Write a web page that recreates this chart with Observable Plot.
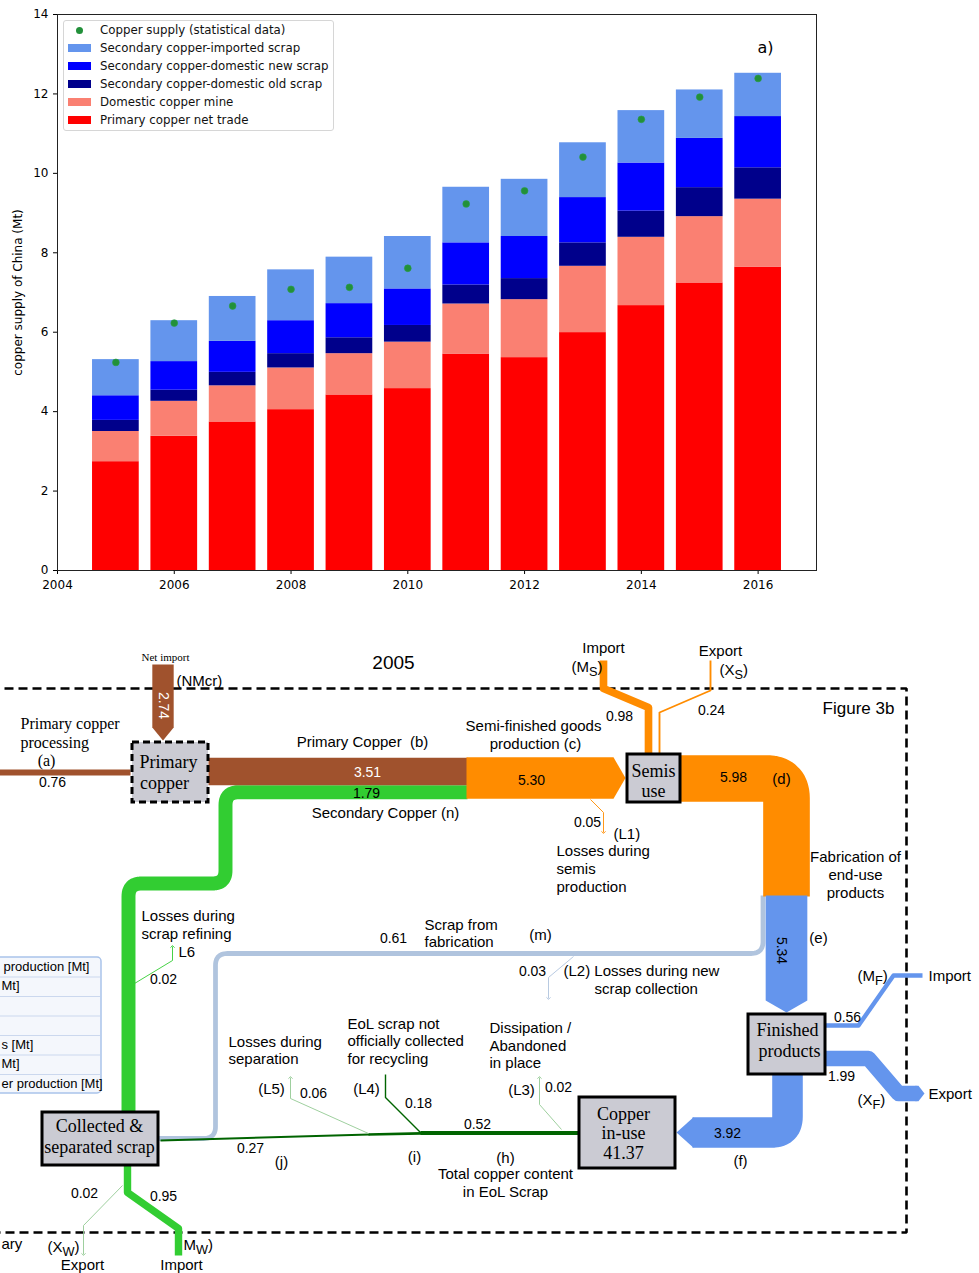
<!DOCTYPE html>
<html><head><meta charset="utf-8">
<script src="https://cdn.jsdelivr.net/npm/d3@7"></script>
<script src="https://cdn.jsdelivr.net/npm/@observablehq/plot@0.6"></script>
<style>
body{margin:0;background:#fff;}
#wrap{position:relative;width:979px;height:1273px;overflow:hidden;background:#fff;}
#wrap svg{display:block;}
.legend{position:absolute;left:63px;top:20px;width:271px;height:111px;border:1px solid #d6d6d6;border-radius:3px;background:rgba(255,255,255,0.85);font:11.8px "DejaVu Sans";color:#111;box-sizing:border-box;}
.li{position:absolute;left:0;width:100%;height:18px;}
.li span.t{position:absolute;left:36px;top:0;line-height:18px;white-space:nowrap;}
.li span.p{position:absolute;left:4px;top:5px;width:23px;height:8px;}
.li span.d{position:absolute;left:12px;top:5.5px;width:7px;height:7px;border-radius:50%;}
</style></head>
<body><div id="wrap"></div>
<script>
// ---------------- DATA: panel a) ----------------
const years = [2005,2006,2007,2008,2009,2010,2011,2012,2013,2014,2015,2016];
const primaryNetTrade   = [2.74,3.38,3.74,4.05,4.42,4.58,5.45,5.36,5.99,6.67,7.24,7.64];
const domesticMine      = [0.76,0.88,0.91,1.05,1.04,1.17,1.26,1.46,1.67,1.72,1.67,1.71];
const domesticOldScrap  = [0.28,0.28,0.34,0.36,0.40,0.42,0.48,0.53,0.59,0.66,0.73,0.79];
const domesticNewScrap  = [0.62,0.72,0.78,0.83,0.86,0.92,1.06,1.06,1.14,1.21,1.24,1.29];
const importedScrap     = [0.91,1.03,1.13,1.28,1.17,1.32,1.40,1.44,1.38,1.32,1.22,1.09];
const supplyStatistical = [5.24,6.23,6.66,7.08,7.13,7.61,9.23,9.56,10.41,11.36,11.92,12.39];
const seriesNames = ["Primary copper net trade","Domestic copper mine","Secondary copper-domestic old scrap","Secondary copper-domestic new scrap","Secondary copper-imported scrap"];
const dotName = "Copper supply (statistical data)";
const xTicks = [2004,2006,2008,2010,2012,2014,2016];
const yTicks = [0,2,4,6,8,10,12,14];

// ---------------- DATA: panel b) flows (Mt), year 2005 ----------------
const flowYear = "2005";
const flowIds    = ["a","NMcr","b","n","c","MS","XS","L1","d","e","m","L2","MF","XF","f","h","L3","L4","L5","j","MW","XW","L6"];
const flowValues = [0.76,2.74,3.51,1.79,5.30,0.98,0.24,0.05,5.98,5.34,0.61,0.03,0.56,1.99,3.92,0.52,0.02,0.18,0.06,0.27,0.95,0.02,0.02];
const inUseStock = 41.37;
const nodeIds = ["primary","semis","finished","inuse","scrap"];

// ---------------- styles ----------------
const seriesColors = ["#ff0000","#fa8072","#00008b","#0000ff","#6495ed"];
const dotColor = "#22903a";
const SANS = "Liberation Sans", SERIF = "Liberation Serif";
const wrap = document.getElementById("wrap");

// ---------------- panel a) ----------------
const seriesValues = [primaryNetTrade, domesticMine, domesticOldScrap, domesticNewScrap, importedScrap];
const rows = [];
years.forEach((yr, j) => {
  let acc = 0;
  seriesValues.forEach((vals, i) => { rows.push({year: yr, series: seriesNames[i], y1: acc, y2: acc + vals[j]}); acc += vals[j]; });
});
const dots = years.map((yr, j) => ({year: yr, value: supplyStatistical[j]}));

const chartA = Plot.plot({
  width: 979, height: 600,
  marginLeft: 57, marginRight: 163, marginTop: 14, marginBottom: 30,
  style: {fontFamily: "DejaVu Sans", fontSize: "12px", color: "#000", background: "white", overflow: "visible"},
  x: {domain: [2004, 2017], ticks: xTicks, tickFormat: d => String(d), tickSize: 4, tickPadding: 6, label: null},
  y: {domain: [0, 14], ticks: yTicks, tickSize: 4, tickPadding: 5, label: null},
  color: {domain: seriesNames, range: seriesColors},
  marks: [
    Plot.rect(rows, {x1: d => d.year - 0.4, x2: d => d.year + 0.4, y1: "y1", y2: "y2", fill: "series"}),
    Plot.dot(dots, {x: "year", y: "value", r: 3.4, fill: dotColor, stroke: "#2a9e45", strokeWidth: 0.6}),
    Plot.frame({stroke: "#222", strokeWidth: 1}),
    Plot.text(["copper supply of China (Mt)"], {text: d => d, frameAnchor: "left", dx: -39, rotate: -90, fontSize: 12, textAnchor: "middle", lineAnchor: "middle"}),
    Plot.text(["a)"], {text: d => d, frameAnchor: "top-right", dx: -43, dy: 33, textAnchor: "end", lineAnchor: "middle", fontSize: 16})
  ]
});
wrap.appendChild(chartA);

// legend (HTML overlay)
const leg = document.createElement("div");
leg.className = "legend";
const legItems = [{name: dotName, dot: true}].concat(seriesNames.map((n, i) => ({name: n, color: seriesColors[i]})).reverse());
legItems.forEach((it, i) => {
  const row = document.createElement("div");
  row.className = "li";
  row.style.top = (i * 18) + "px";
  const m = document.createElement("span");
  if (it.dot) { m.className = "d"; m.style.background = dotColor; }
  else { m.className = "p"; m.style.background = it.color; }
  const t = document.createElement("span");
  t.className = "t"; t.textContent = it.name;
  row.appendChild(m); row.appendChild(t);
  leg.appendChild(row);
});
wrap.appendChild(leg);

// ---------------- panel b) ----------------
const K = 7.8; // px per Mt (flow width scale)
const flow = Object.fromEntries(flowIds.map((id, i) => [id, flowValues[i]]));
const fw = id => Math.max(flow[id] * K, 0.9);
const fmt = id => flow[id].toFixed(2);

function rounded(pts, r) {
  if (!r) return pts;
  const out = [pts[0]];
  for (let i = 1; i < pts.length - 1; i++) {
    const p0 = pts[i-1], p1 = pts[i], p2 = pts[i+1];
    const d1 = Math.hypot(p1[0]-p0[0], p1[1]-p0[1]), d2 = Math.hypot(p2[0]-p1[0], p2[1]-p1[1]);
    const rr = Math.min(r, d1/2, d2/2);
    const a = [p1[0] + (p0[0]-p1[0]) * rr / d1, p1[1] + (p0[1]-p1[1]) * rr / d1];
    const b = [p1[0] + (p2[0]-p1[0]) * rr / d2, p1[1] + (p2[1]-p1[1]) * rr / d2];
    for (let k = 0; k <= 14; k++) {
      const t = k / 14;
      out.push([(1-t)*(1-t)*a[0] + 2*(1-t)*t*p1[0] + t*t*b[0], (1-t)*(1-t)*a[1] + 2*(1-t)*t*p1[1] + t*t*b[1]]);
    }
  }
  out.push(pts[pts.length-1]);
  return out;
}
const L = (pts, o) => Plot.line(pts, {x: d => d[0], y: d => d[1], strokeLinecap: "butt", strokeLinejoin: "round", ...o});
const band = (id, pts, color, r = 0, extra = {}) => L(rounded(pts, r), {stroke: color, strokeWidth: fw(id), ...extra});
const poly = (pts, color) => Plot.line(pts, {x: d => d[0], y: d => d[1], curve: "linear-closed", fill: color, stroke: "none"});

const BROWN = "#a0522d", ORANGE = "#ff8c00", GREEN = "#32cd32", LSB = "#b0c4de", CBLUE = "#6495ed", DGREEN = "#006400", LGREEN = "#93c993";
const NODEFILL = "#cbcbd3";

// layout (pixel positions of the schematic)
const hw = id => flow[id] * K / 2;
const boxes = {
  primary:  {x1: 132, x2: 208, y1: 742, y2: 802, dashed: true},
  semis:    {x1: 627, x2: 680, y1: 754, y2: 802},
  finished: {x1: 748, x2: 825, y1: 1014, y2: 1074},
  inuse:    {x1: 579, x2: 675, y1: 1097, y2: 1168},
  scrap:    {x1: 42,  x2: 158, y1: 1112, y2: 1165}
};

const marks = [];
// system boundary
marks.push(L([[-10,688],[906,688],[906,1232],[-10,1232]], {stroke: "#000", strokeWidth: 2.6, strokeDasharray: "9,5", strokeLinejoin: "miter"}));
// side table (cut)
marks.push(Plot.rect([{x1: -10, x2: 101, y1: 957, y2: 1093}], {x1: "x1", x2: "x2", y1: "y1", y2: "y2", fill: "#f4f7fc", stroke: "#a9c3ea", strokeWidth: 1.5, rx: 4}));
marks.push(Plot.ruleY([976.5, 996, 1015.5, 1035, 1054.5, 1074], {y: d => d, x1: -10, x2: 100, stroke: "#cbd8ee", strokeWidth: 1}));

// flows
marks.push(band("n", [[467,791.7],[225,791.7],[225,883],[128,883],[128,1112]], GREEN, 13));
marks.push(band("a", [[-5,772],[130,772]], BROWN));
marks.push(band("b", [[208,771],[467,771]], BROWN));
marks.push(poly([[162.5-hw("NMcr"),664],[162.5+hw("NMcr"),664],[162.5+hw("NMcr"),727],[162.5,740],[162.5-hw("NMcr"),727]], BROWN));
marks.push(poly([[466,777.5-hw("c")],[613,777.5-hw("c")],[625,777.5],[613,777.5+hw("c")],[466,777.5+hw("c")]], ORANGE));
marks.push(band("MS", [[603,660],[603,688],[648,707],[648,754]], ORANGE));
marks.push(band("XS", [[659,754],[659,712],[710,690],[710,660]], ORANGE));
marks.push(band("L1", [[590,799],[603,812],[603,832]], ORANGE, 0, {markerEnd: "arrow"}));
marks.push(band("m", [[762.5,895],[762.5,953],[215,953],[215,1138],[158,1138]], LSB, 12));
marks.push(band("d", [[680,778],[786,778],[786,896]], ORANGE, 20));
marks.push(poly([[786-hw("e"),895],[786+hw("e"),895],[786+hw("e"),1000],[786,1012],[786-hw("e"),1000]], CBLUE));
marks.push(band("L2", [[573,956],[548,977],[548,998]], LSB, 0, {markerEnd: "arrow"}));
marks.push(band("MF", [[825,1025],[858,1025],[893,975],[922,975]], CBLUE));
marks.push(band("XF", [[825,1058],[868,1058],[898,1093],[916,1093]], CBLUE));
marks.push(poly([[915,1093-hw("XF")],[918,1093-hw("XF")],[924,1093],[918,1093+hw("XF")],[915,1093+hw("XF")]], CBLUE));
marks.push(band("f", [[787,1074],[787,1132],[692,1132]], CBLUE, 16));
marks.push(poly([[693,1132-hw("f")],[693,1132+hw("f")],[676,1132]], CBLUE));
marks.push(band("h", [[579,1132.5],[420,1132.5]], DGREEN));
marks.push(L([[421,1132.8],[368,1134]], {stroke: DGREEN, strokeWidth: (flow.h - flow.L4) * K}));
marks.push(band("j", [[369,1134],[160,1140]], DGREEN));
marks.push(band("L4", [[420,1132],[385,1097],[385,1074]], DGREEN));
marks.push(band("L5", [[368,1133],[290,1098],[290,1077]], LGREEN, 0, {markerEnd: "arrow"}));
marks.push(band("L3", [[561,1129],[539,1104],[539,1077]], LGREEN, 0, {markerEnd: "arrow"}));
marks.push(band("MW", [[127,1165],[127,1192],[178,1228],[178,1255]], GREEN));
marks.push(band("XW", [[122,1185],[83,1225],[83,1254]], LGREEN, 0, {markerEnd: "arrow"}));
marks.push(band("L6", [[134,983],[172,960],[172,946]], GREEN, 0, {markerEnd: "arrow"}));

// nodes
nodeIds.forEach(id => {
  const b = boxes[id];
  marks.push(Plot.rect([b], {x1: "x1", x2: "x2", y1: "y1", y2: "y2", fill: NODEFILL, stroke: "#000", strokeWidth: 3,
    strokeDasharray: b.dashed ? "7,4" : null}));
});

// labels
const ctx = document.createElement("canvas").getContext("2d");
const measure = (t, s, f) => { ctx.font = `${s}px "${f}"`; return ctx.measureText(t).width; };
const texts = [];
const T = (x, y, t, o = {}) => texts.push({x, y, t, a: o.a || "middle", s: o.s || 15, f: o.f || SANS, c: o.c || "#000", r: o.r || 0});
const SUB = (x, y, main, sub, tail, s = 15) => {
  const w1 = measure(main, s, SANS), w2 = measure(sub, s * 0.85, SANS);
  T(x, y, main, {a: "start", s}); T(x + w1, y + 4, sub, {a: "start", s: s * 0.85}); T(x + w1 + w2, y, tail, {a: "start", s});
};
T(393, 662, flowYear, {s: 19});
T(858, 708, "Figure 3b", {s: 17});
T(165, 657, "Net import", {s: 11, f: SERIF});
T(176, 681, "(NMcr)", {a: "start"});
T(162.5, 705, fmt("NMcr"), {s: 14, c: "#fff", r: 90});
T(20, 723, "Primary copper", {a: "start", s: 16, f: SERIF});
T(20, 742, "processing", {a: "start", s: 16, f: SERIF});
T(46, 760, "(a)", {s: 16, f: SERIF});
T(52, 782, fmt("a"), {s: 14});
T(168, 762, "Primary", {s: 18, f: SERIF});
T(164, 783, "copper", {s: 18, f: SERIF});
T(362, 742, "Primary Copper  (b)");
T(367, 772, fmt("b"), {s: 14, c: "#fff"});
T(366, 793, fmt("n"), {s: 14});
T(385, 813, "Secondary Copper (n)");
T(533, 726, "Semi-finished goods");
T(535, 744, "production (c)");
T(531, 780, fmt("c"), {s: 14});
T(587, 822, fmt("L1"), {s: 14});
T(613, 834, "(L1)", {a: "start"});
T(556, 851, "Losses during", {a: "start"});
T(556, 869, "semis", {a: "start"});
T(556, 887, "production", {a: "start"});
T(653, 771, "Semis", {s: 18, f: SERIF});
T(653, 791, "use", {s: 18, f: SERIF});
T(603, 648, "Import");
SUB(571, 667, "(M", "S", ")");
T(720, 651, "Export");
SUB(719, 670, "(X", "S", ")");
T(619, 716, fmt("MS"), {s: 14});
T(711, 710, fmt("XS"), {s: 14});
T(733, 777, fmt("d"), {s: 14});
T(781, 779, "(d)");
T(855, 857, "Fabrication of");
T(855, 875, "end-use");
T(855, 893, "products");
T(781, 950, fmt("e"), {s: 14, r: 90});
T(818, 938, "(e)");
T(141, 916, "Losses during", {a: "start"});
T(141, 934, "scrap refining", {a: "start"});
T(178, 952, "L6", {a: "start"});
T(163, 979, fmt("L6"), {s: 14});
T(393, 938, fmt("m"), {s: 14});
T(424, 925, "Scrap from", {a: "start"});
T(424, 942, "fabrication", {a: "start"});
T(540, 935, "(m)");
T(532, 971, fmt("L2"), {s: 14});
T(563, 971, "(L2) Losses during new", {a: "start"});
T(594, 989, "scrap collection", {a: "start"});
SUB(857, 976, "(M", "F", ")");
T(928, 976, "Import", {a: "start"});
T(847, 1017, fmt("MF"), {s: 14});
T(841, 1076, fmt("XF"), {s: 14});
SUB(857, 1100, "(X", "F", ")");
T(928, 1094, "Export", {a: "start"});
T(787, 1030, "Finished", {s: 18, f: SERIF});
T(789, 1051, "products", {s: 18, f: SERIF});
T(623, 1114, "Copper", {s: 18, f: SERIF});
T(623, 1133, "in-use", {s: 18, f: SERIF});
T(623, 1153, inUseStock.toFixed(2), {s: 18, f: SERIF});
T(727, 1133, fmt("f"), {s: 14});
T(740, 1161, "(f)");
T(347, 1024, "EoL scrap not", {a: "start"});
T(347, 1041, "officially collected", {a: "start"});
T(347, 1059, "for recycling", {a: "start"});
T(489, 1028, "Dissipation /", {a: "start"});
T(489, 1046, "Abandoned", {a: "start"});
T(489, 1063, "in place", {a: "start"});
T(228, 1042, "Losses during", {a: "start"});
T(228, 1059, "separation", {a: "start"});
T(271, 1089, "(L5)");
T(313, 1093, fmt("L5"), {s: 14});
T(366, 1089, "(L4)");
T(418, 1103, fmt("L4"), {s: 14});
T(521, 1090, "(L3)");
T(558, 1087, fmt("L3"), {s: 14});
T(477, 1124, fmt("h"), {s: 14});
T(250, 1148, fmt("j"), {s: 14});
T(281, 1162, "(j)");
T(414, 1157, "(i)");
T(505, 1158, "(h)");
T(505, 1174, "Total copper content");
T(505, 1192, "in EoL Scrap");
T(99, 1126, "Collected &", {s: 18, f: SERIF});
T(99, 1147, "separated scrap", {s: 18, f: SERIF});
T(84, 1193, fmt("XW"), {s: 14});
T(163, 1196, fmt("MW"), {s: 14});
SUB(47, 1247, "(X", "W", ")");
SUB(183, 1245, "M", "W", ")");
T(82, 1265, "Export");
T(181, 1265, "Import");
T(1, 1244, "ary", {a: "start"});
T(3, 966, "production [Mt]", {a: "start", s: 13});
T(1, 985, "Mt]", {a: "start", s: 13});
T(1, 1044, "s [Mt]", {a: "start", s: 13});
T(1, 1063, "Mt]", {a: "start", s: 13});
T(1, 1083, "er production [Mt]", {a: "start", s: 13});

// group texts by style for Plot.text
const groups = d3.groups(texts, d => [d.a, d.s, d.f, d.c, d.r].join("|"));
groups.forEach(([key, arr]) => {
  const d0 = arr[0];
  marks.push(Plot.text(arr, {x: "x", y: "y", text: "t", textAnchor: d0.a, fontSize: d0.s, fontFamily: d0.f, fill: d0.c, rotate: d0.r, lineAnchor: "middle"}));
});

const chartB = Plot.plot({
  width: 979, height: 673,
  marginLeft: 0, marginRight: 0, marginTop: 0, marginBottom: 0,
  style: {fontFamily: SANS, background: "white"},
  x: {domain: [0, 979], range: [0, 979], axis: null},
  y: {domain: [600, 1273], range: [0, 673], axis: null},
  marks
});
wrap.appendChild(chartB);
</script>
</body></html>
